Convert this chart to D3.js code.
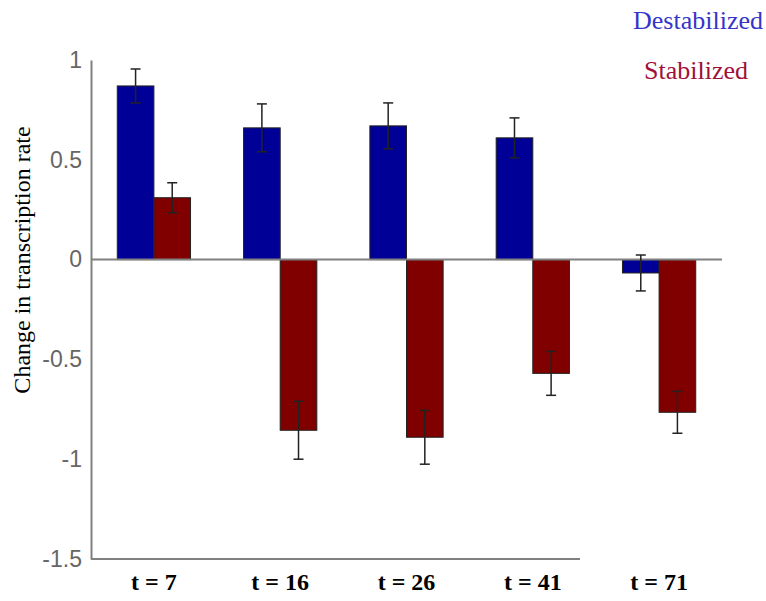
<!DOCTYPE html>
<meta charset="utf-8">
<html><head>
<style>
body { margin: 0; background: #fff; }
.tick text { font-family: Arial, "Liberation Sans", sans-serif; font-size: 23px; fill: #666; }
.xlab text { font-family: "Liberation Serif", "DejaVu Serif", serif; font-size: 24px; font-weight: bold; fill: #000; }
.serif { font-family: "Liberation Serif", "DejaVu Serif", serif; }
</style>
</head>
<body>
<svg width="766" height="601"></svg>
<script src="https://cdn.jsdelivr.net/npm/d3@7"></script>
<script>

var times = ["t = 7", "t = 16", "t = 26", "t = 41", "t = 71"];
var destabilized = [0.87, 0.66, 0.67, 0.61, -0.067];
var destabErr = [0.085, 0.12, 0.115, 0.10, 0.09];
var stabilized = [0.31, -0.855, -0.89, -0.57, -0.765];
var stabErr = [0.075, 0.145, 0.135, 0.11, 0.105];
var yTicks = [1, 0.5, 0, -0.5, -1, -1.5];

var svg = d3.select("svg");

var x = d3.scaleBand()
    .domain(times)
    .range([91, 722])
    .paddingInner(0.42)
    .paddingOuter(0.208);

var y = d3.scaleLinear()
    .domain([-1.5, 1])
    .range([559, 60]);

var series = [
  {name: "Destabilized", vals: destabilized, err: destabErr, color: "#000096", off: 0},
  {name: "Stabilized", vals: stabilized, err: stabErr, color: "#800000", off: 1}
];

var half = x.bandwidth() / 2;

// y axis
var yAxis = svg.append("g")
    .attr("transform", "translate(91,0)")
    .call(d3.axisLeft(y).tickValues(yTicks).tickSize(0).tickPadding(9)
      .tickFormat(function(d) { return String(d); }));
yAxis.select(".domain").attr("stroke", "#808080").attr("stroke-width", 2);

// bottom line
svg.append("line")
    .attr("x1", 91).attr("x2", 580)
    .attr("y1", y(-1.5)).attr("y2", y(-1.5))
    .attr("stroke", "#808080").attr("stroke-width", 2);

series.forEach(function(s) {
  var g = svg.append("g");
  g.selectAll("rect")
    .data(s.vals)
    .enter().append("rect")
      .attr("x", function(d, i) { return x(times[i]) + s.off * half; })
      .attr("width", half)
      .attr("y", function(d) { return y(Math.max(0, d)); })
      .attr("height", function(d) { return Math.abs(y(d) - y(0)); })
      .attr("fill", s.color)
      .attr("stroke", "#222")
      .attr("stroke-width", 1);
});

// zero line
svg.append("line")
    .attr("x1", 91).attr("x2", 722)
    .attr("y1", y(0)).attr("y2", y(0))
    .attr("stroke", "#808080").attr("stroke-width", 2);

// error bars
series.forEach(function(s) {
  var g = svg.append("g").attr("stroke", "#222").attr("stroke-width", 1.5);
  s.vals.forEach(function(d, i) {
    var cx = x(times[i]) + s.off * half + half / 2;
    var lo = y(d - s.err[i]), hi = y(d + s.err[i]);
    g.append("line").attr("x1", cx).attr("x2", cx).attr("y1", lo).attr("y2", hi);
    g.append("line").attr("x1", cx - 5).attr("x2", cx + 5).attr("y1", lo).attr("y2", lo);
    g.append("line").attr("x1", cx - 5).attr("x2", cx + 5).attr("y1", hi).attr("y2", hi);
  });
});

// category labels
var xlab = svg.append("g").attr("class", "xlab")
    .attr("transform", "translate(0," + y(-1.5) + ")")
    .call(d3.axisBottom(x).tickSize(0).tickPadding(14));
xlab.select(".domain").remove();

// y label
svg.append("text")
    .attr("class", "serif")
    .attr("transform", "translate(30,260) rotate(-90)")
    .attr("text-anchor", "middle")
    .style("font-size", "24px")
    .text("Change in transcription rate");

// legend
svg.append("text")
    .attr("class", "serif")
    .attr("x", 763).attr("y", 29)
    .attr("text-anchor", "end")
    .style("font-size", "26px")
    .attr("fill", "#3535c8")
    .text("Destabilized");
svg.append("text")
    .attr("class", "serif")
    .attr("x", 748).attr("y", 79)
    .attr("text-anchor", "end")
    .style("font-size", "26px")
    .attr("fill", "#a01038")
    .text("Stabilized");

</script>
</body>
</html>
